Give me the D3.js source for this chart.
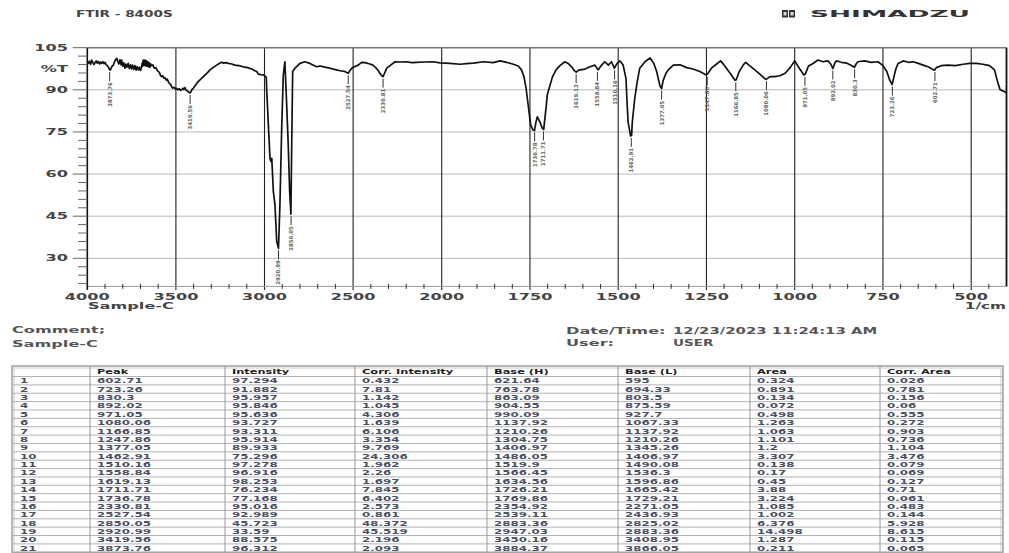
<!DOCTYPE html>
<html><head><meta charset="utf-8">
<script src="https://cdn.jsdelivr.net/npm/d3@7"></script>
<style>
html,body{margin:0;padding:0;background:#fff;}
svg{display:block;}
text{font-family:"DejaVu Sans",sans-serif;font-weight:bold;}
</style></head><body>
<svg id="chart" width="1009" height="553"></svg>
<script>
/* spectrum trace: [wavenumber 1/cm, %T] */
const trace=[
[4000,99.6],[3994,99.4],[3988,100.2],[3981,99.1],[3975,100.6],[3969,99.8],[3962,99.0],[3957,99.6],[3950,100.3],[3944,99.5],
[3938,100.1],[3931,99.2],[3925,99.9],[3919,99.4],[3912,100.0],[3906,99.3],[3900,99.8],[3893,98.9],[3887,98.6],[3882,98.2],
[3876,97.4],[3871,97.0],[3866,97.6],[3860,98.4],[3853,98.8],[3847,99.9],[3840,100.8],[3834,101.2],[3828,100.1],[3822,99.2],
[3816,100.7],[3810,99.0],[3806,100.6],[3800,98.4],[3794,99.6],[3787,97.7],[3782,99.2],[3776,98.1],[3769,99.4],[3763,97.6],
[3756,98.9],[3750,97.4],[3744,98.8],[3737,97.3],[3731,98.6],[3725,97.0],[3719,98.3],[3712,97.1],[3706,98.0],[3700,96.9],
[3693,98.3],[3690,99.6],[3688,98.4],[3685,100.5],[3683,98.9],[3680,100.6],[3678,98.6],[3675,100.4],[3673,98.8],[3670,100.5],
[3668,98.5],[3665,100.2],[3663,98.3],[3660,100.0],[3658,98.4],[3655,99.8],[3653,98.2],[3650,99.5],[3647,98.0],[3644,99.3],
[3637,98.6],[3630,98.9],[3624,97.9],[3618,97.7],[3612,97.8],[3605,96.9],[3599,96.5],[3593,96.2],[3587,95.1],
[3580,94.7],[3574,95.0],[3568,94.2],[3562,94.3],[3555,93.5],[3549,93.8],[3543,92.9],[3537,92.3],[3531,92.0],[3524,91.1],
[3518,90.6],[3510,90.9],[3503,90.3],[3496,90.5],[3488,90.0],[3480,90.4],[3474,89.8],[3467,90.0],[3460,90.6],[3455,90.1],
[3449,90.8],[3442,89.9],[3436,89.6],[3430,89.3],[3424,89.0],[3419,88.9],[3413,89.6],[3408,90.2],[3402,90.5],[3395,91.2],
[3389,91.6],[3383,92.3],[3370,93.2],[3358,93.9],[3345,94.7],[3330,95.6],[3320,96.2],[3308,97.1],[3290,97.9],[3270,98.8],
[3255,99.4],[3242,99.8],[3230,99.5],[3218,99.7],[3204,99.4],[3185,99.2],[3167,98.8],[3145,98.6],[3120,98.2],[3095,97.9],
[3072,97.4],[3055,96.8],[3044,96.5],[3035,95.6],[3020,95.4],[3007,95.3],[2990,94.5],[2988,90.5],[2979,78.6],[2969,65.6],
[2964,64.5],[2959,65.6],[2950,53.7],[2941,49.0],[2931,36.0],[2921,33.6],[2913,49.0],[2903,76.3],[2894,95.3],[2885,100.0],
[2875,85.0],[2866,70.3],[2858,53.7],[2851,45.7],[2847,68.0],[2841,96.5],[2828,97.7],[2800,99.4],[2772,100.0],[2744,99.4],
[2706,98.2],[2687,98.5],[2660,98.1],[2630,97.7],[2600,97.2],[2574,96.8],[2550,96.6],[2536,96.2],[2528,95.9],[2518,96.8],
[2508,97.7],[2490,98.3],[2471,98.8],[2452,99.8],[2433,99.7],[2410,99.3],[2390,98.9],[2377,98.2],[2360,97.0],[2349,95.9],
[2338,95.0],[2331,94.7],[2322,96.0],[2310,97.7],[2288,98.8],[2263,100.0],[2230,99.9],[2200,100.0],[2170,99.7],[2142,99.8],
[2100,99.9],[2048,100.0],[2010,99.6],[1977,99.4],[1948,99.1],[1930,99.3],[1910,99.5],[1882,100.0],[1854,99.7],[1835,100.3],
[1816,99.8],[1797,99.1],[1783,98.5],[1774,97.1],[1767,94.7],[1761,90.6],[1755,84.6],[1748,77.5],[1742,75.8],[1737,75.5],
[1733,78.5],[1729,80.4],[1722,78.6],[1715,76.3],[1711,75.9],[1708,79.5],[1704,84.0],[1701,88.2],[1693,91.7],[1686,94.7],
[1676,97.1],[1665,98.6],[1651,100.0],[1642,99.4],[1632,98.2],[1625,96.9],[1619,96.3],[1613,96.9],[1608,97.1],[1594,97.4],
[1580,98.2],[1566,98.8],[1557,97.1],[1547,98.8],[1538,100.0],[1528,98.8],[1519,100.0],[1511,97.7],[1503,99.4],[1495,100.3],
[1486,98.8],[1478,94.1],[1475,85.8],[1472,78.6],[1465,73.6],[1462,73.8],[1460,78.6],[1453,87.0],[1446,92.9],[1439,97.7],
[1424,100.0],[1410,101.4],[1399,99.4],[1391,96.5],[1382,91.5],[1377,90.4],[1373,93.2],[1365,95.8],[1358,97.1],[1344,98.8],
[1325,98.9],[1306,97.9],[1288,97.4],[1269,96.5],[1252,95.4],[1247,95.6],[1236,97.7],[1222,99.1],[1210,100.3],[1198,98.5],
[1183,95.9],[1169,93.4],[1166,93.5],[1157,96.5],[1146,98.8],[1139,99.8],[1127,98.5],[1113,97.1],[1098,95.5],[1084,93.9],
[1080,93.8],[1070,94.7],[1056,94.7],[1042,95.0],[1027,95.9],[1013,97.9],[1000,100.3],[987,97.7],[974,95.3],[970,95.6],
[961,98.5],[948,99.4],[934,100.6],[920,100.0],[906,100.3],[898,99.2],[892,97.6],[886,99.6],[882,100.3],[868,99.8],
[852,99.5],[838,98.6],[831,98.0],[826,99.2],[821,100.0],[802,100.3],[783,99.8],[764,100.0],[750,98.6],[739,96.5],
[731,93.5],[724,91.9],[719,94.6],[713,97.6],[707,99.4],[693,100.3],[678,99.8],[664,100.0],[650,99.4],[636,98.8],
[622,98.2],[612,97.5],[604,97.0],[599,97.9],[585,98.6],[566,98.8],[545,98.6],[523,99.1],[504,99.4],[485,99.4],
[467,99.1],[448,98.6],[434,97.1],[424,92.3],[418,90.0],[410,89.6],[405,89.3],[400,88.8]
];

/* peak table */
const peakWn=[602.71,723.26,830.3,892.02,971.05,1080.06,1166.85,1247.86,1377.05,1462.91,1510.16,1558.84,1619.13,1711.71,1736.78,2330.81,2527.54,2850.05,2920.99,3419.56,3873.76];
const peakInt=[97.294,91.882,95.957,95.846,95.636,93.727,93.311,95.914,89.933,75.296,97.278,96.916,98.253,76.234,77.168,95.016,92.989,45.723,33.59,88.575,96.312];
const corrInt=[0.432,7.81,1.142,1.045,4.306,1.639,6.106,3.354,9.769,24.306,1.962,2.26,1.697,7.845,6.402,2.573,0.861,48.372,45.519,2.196,2.093];
const baseH=[621.64,763.78,863.09,904.55,990.09,1137.92,1210.26,1304.75,1406.97,1486.05,1519.9,1566.45,1634.56,1726.21,1769.86,2354.92,2539.11,2883.36,2947.03,3450.16,3884.37];
const baseL=[595,694.33,803.5,875.59,927.7,1067.33,1137.92,1210.26,1345.26,1406.97,1490.08,1536.3,1596.86,1665.42,1729.21,2271.05,2436.93,2825.02,2883.36,3408.95,3866.05];
const area=[0.324,0.891,0.134,0.072,0.498,1.263,1.063,1.101,1.2,3.307,0.138,0.17,0.45,3.88,3.224,1.085,1.002,6.376,14.498,1.287,0.211];
const corrArea=[0.026,0.781,0.156,0.06,0.555,0.272,0.903,0.736,1.104,3.476,0.079,0.069,0.127,0.71,0.061,0.483,0.144,5.928,8.615,0.115,0.065];
const headers=["","Peak","Intensity","Corr. Intensity","Base (H)","Base (L)","Area","Corr. Area"];

/* axes */
const xTicks=[4000,3500,3000,2500,2000,1750,1500,1250,1000,750,500];
const yTicks=[105,90,75,60,45,30];

const svg=d3.select("#chart");
const x=d3.scaleLinear().domain([4000,2000,400]).range([87.3,441.7,1006.5]);
const y=d3.scaleLinear().domain([20,105]).range([286.4,47.7]);
const X0=x(4000),X1=x(400),Y0=y(105),Y1=y(20);

/* wide bold text like the printout */
function wide(g,str,px,py,opt={}){
  const size=opt.size||8.5, sx=opt.sx||1.9;
  return g.append("text")
    .attr("transform",`translate(${px},${py}) scale(${sx},1)`)
    .attr("font-size",size).attr("dy","0.36em")
    .attr("text-anchor",opt.anchor||"start")
    .attr("fill",opt.fill||"#333").text(str);
}

/* header texts */
wide(svg,"FTIR - 8400S",76,14,{size:8,sx:1.7,fill:"#444"});
const logo=svg.append("g");
[782,789].forEach(lx=>{
  logo.append("rect").attr("x",lx).attr("y",10).attr("width",6).attr("height",7.5).attr("fill","#333");
  logo.append("rect").attr("x",lx+1.5).attr("y",12).attr("width",3).attr("height",3.5).attr("fill","#ddd");
});
svg.append("text").attr("x",810).attr("y",14).attr("dy","0.36em").attr("font-size",9.5)
  .attr("textLength",160).attr("lengthAdjust","spacingAndGlyphs").attr("fill","#333").text("SHIMADZU");

/* plot */
const plot=svg.append("g");
plot.append("rect").attr("x",X0).attr("y",Y0).attr("width",X1-X0).attr("height",Y1-Y0).attr("fill","#fff");
// horizontal grid
plot.selectAll(".hg").data(yTicks.slice(1)).enter().append("line")
  .attr("x1",X0).attr("x2",X1).attr("y1",d=>y(d)).attr("y2",d=>y(d))
  .attr("stroke","#b8b8b8").attr("stroke-width",1);
// vertical grid
plot.selectAll(".vg").data(xTicks.slice(1)).enter().append("line")
  .attr("x1",d=>x(d)).attr("x2",d=>x(d)).attr("y1",Y0).attr("y2",Y1+3.5)
  .attr("stroke","#222").attr("stroke-width",1.1);
// frame
plot.append("line").attr("x1",X0).attr("x2",X1).attr("y1",Y0).attr("y2",Y0).attr("stroke","#777").attr("stroke-width",1.5);
plot.append("line").attr("x1",X0).attr("x2",X1).attr("y1",Y1).attr("y2",Y1).attr("stroke","#999").attr("stroke-width",1);
plot.append("line").attr("x1",X0).attr("x2",X0).attr("y1",Y0).attr("y2",Y1+3.5).attr("stroke","#111").attr("stroke-width",1.6);
plot.append("line").attr("x1",X1).attr("x2",X1).attr("y1",Y0).attr("y2",Y1).attr("stroke","#111").attr("stroke-width",1.8);

// x minor ticks
const xMinor=d3.range(3900,2000,-100).concat(d3.range(1950,400,-50)).filter(v=>!xTicks.includes(v));
plot.selectAll(".xm").data(xMinor).enter().append("line")
  .attr("x1",d=>x(d)).attr("x2",d=>x(d)).attr("y1",Y1-2.5).attr("y2",Y1+2.5)
  .attr("stroke","#333").attr("stroke-width",1);
// y ticks
const yMinor=d3.range(21,105,3).filter(v=>!yTicks.includes(v));
plot.selectAll(".ym").data(yMinor).enter().append("line")
  .attr("x1",78).attr("x2",X0).attr("y1",d=>y(d)).attr("y2",d=>y(d))
  .attr("stroke","#666").attr("stroke-width",1);
plot.selectAll(".yM").data(yTicks).enter().append("line")
  .attr("x1",72.7).attr("x2",X0).attr("y1",d=>y(d)).attr("y2",d=>y(d))
  .attr("stroke","#666").attr("stroke-width",1);

// tick labels
yTicks.forEach(v=>wide(svg,String(v),68,y(v),{anchor:"end",fill:"#444"}));
wide(svg,"%T",68,y(97.3),{anchor:"end",fill:"#444"});
xTicks.forEach(v=>wide(svg,String(v),x(v),296.5,{anchor:"middle",fill:"#444"}));
wide(svg,"Sample-C",88,305.5,{fill:"#444"});
wide(svg,"1/cm",1006,306,{anchor:"end",fill:"#444",sx:1.8});

// trace
svg.append("clipPath").attr("id","clip").append("rect").attr("x",X0).attr("y",Y0-1).attr("width",X1-X0).attr("height",Y1-Y0+1);
svg.append("path").datum(trace).attr("clip-path","url(#clip)")
  .attr("d",d3.line().x(d=>x(d[0])).y(d=>y(d[1])))
  .attr("fill","none").attr("stroke","#111").attr("stroke-width",1.7).attr("stroke-linejoin","round");

// peak labels
const pk=svg.append("g");
peakWn.forEach(w=>{
  const near=trace.filter(d=>Math.abs(d[0]-w)<=9);
  const t=d3.min(near,d=>d[1]);
  const px=x(w), py=y(t);
  pk.append("line").attr("x1",px).attr("x2",px).attr("y1",py+2).attr("y2",py+11).attr("stroke","#333").attr("stroke-width",1);
  pk.append("text").attr("transform",`translate(${px},${py+12}) rotate(-90)`)
    .attr("text-anchor","end").attr("dy","0.36em").attr("font-size",5.4)
    .attr("fill","#666").text(String(w));
});

// comment / date block
wide(svg,"Comment;",12,330,{fill:"#555"});
wide(svg,"Sample-C",12,343.5,{fill:"#555"});
wide(svg,"Date/Time:",566,331,{fill:"#555"});
wide(svg,"12/23/2023 11:24:13 AM",673,331,{fill:"#555",sx:1.75});
wide(svg,"User:",566,343,{fill:"#555"});
wide(svg,"USER",673,343,{fill:"#555",sx:1.6});

/* table */
const colX=[12,90,225,355,487,618,750,880,1003];
const tTop=366, headH=10.5, rowH=8.37;
const tb=svg.append("g");
const nRows=peakWn.length;
const tBottom=tTop+headH+nRows*rowH;
tb.append("rect").attr("x",colX[0]).attr("y",tTop).attr("width",colX[8]-colX[0]).attr("height",tBottom-tTop)
  .attr("fill","#fff").attr("stroke","#888").attr("stroke-width",1.2);
tb.append("rect").attr("x",colX[0]+2).attr("y",tTop+2).attr("width",colX[8]-colX[0]-4).attr("height",tBottom-tTop)
  .attr("fill","none").attr("stroke","#ccc").attr("stroke-width",1);
d3.range(nRows+1).forEach(i=>{
  const ly=tTop+headH+i*rowH;
  tb.append("line").attr("x1",colX[0]).attr("x2",colX[8]).attr("y1",ly).attr("y2",ly).attr("stroke","#aaa").attr("stroke-width",0.9);
});
colX.slice(1,8).forEach(cx=>{
  tb.append("line").attr("x1",cx).attr("x2",cx).attr("y1",tTop).attr("y2",tBottom).attr("stroke","#999").attr("stroke-width",1);
});
headers.forEach((h,j)=>{ if(h) wide(tb,h,colX[j]+7,tTop+headH/2+0.5,{size:7.6,sx:1.5,fill:"#222"}); });
const cols=[peakWn,peakInt,corrInt,baseH,baseL,area,corrArea];
d3.range(nRows).forEach(i=>{
  const cy=tTop+headH+(i+0.5)*rowH;
  wide(tb,String(i+1),colX[0]+8,cy,{size:7.4,sx:1.6,fill:"#4a5066"});
  cols.forEach((c,j)=>wide(tb,String(c[i]),colX[j+1]+7,cy,{size:7.4,sx:1.6,fill:"#4a5066"}));
});
</script></body></html>
